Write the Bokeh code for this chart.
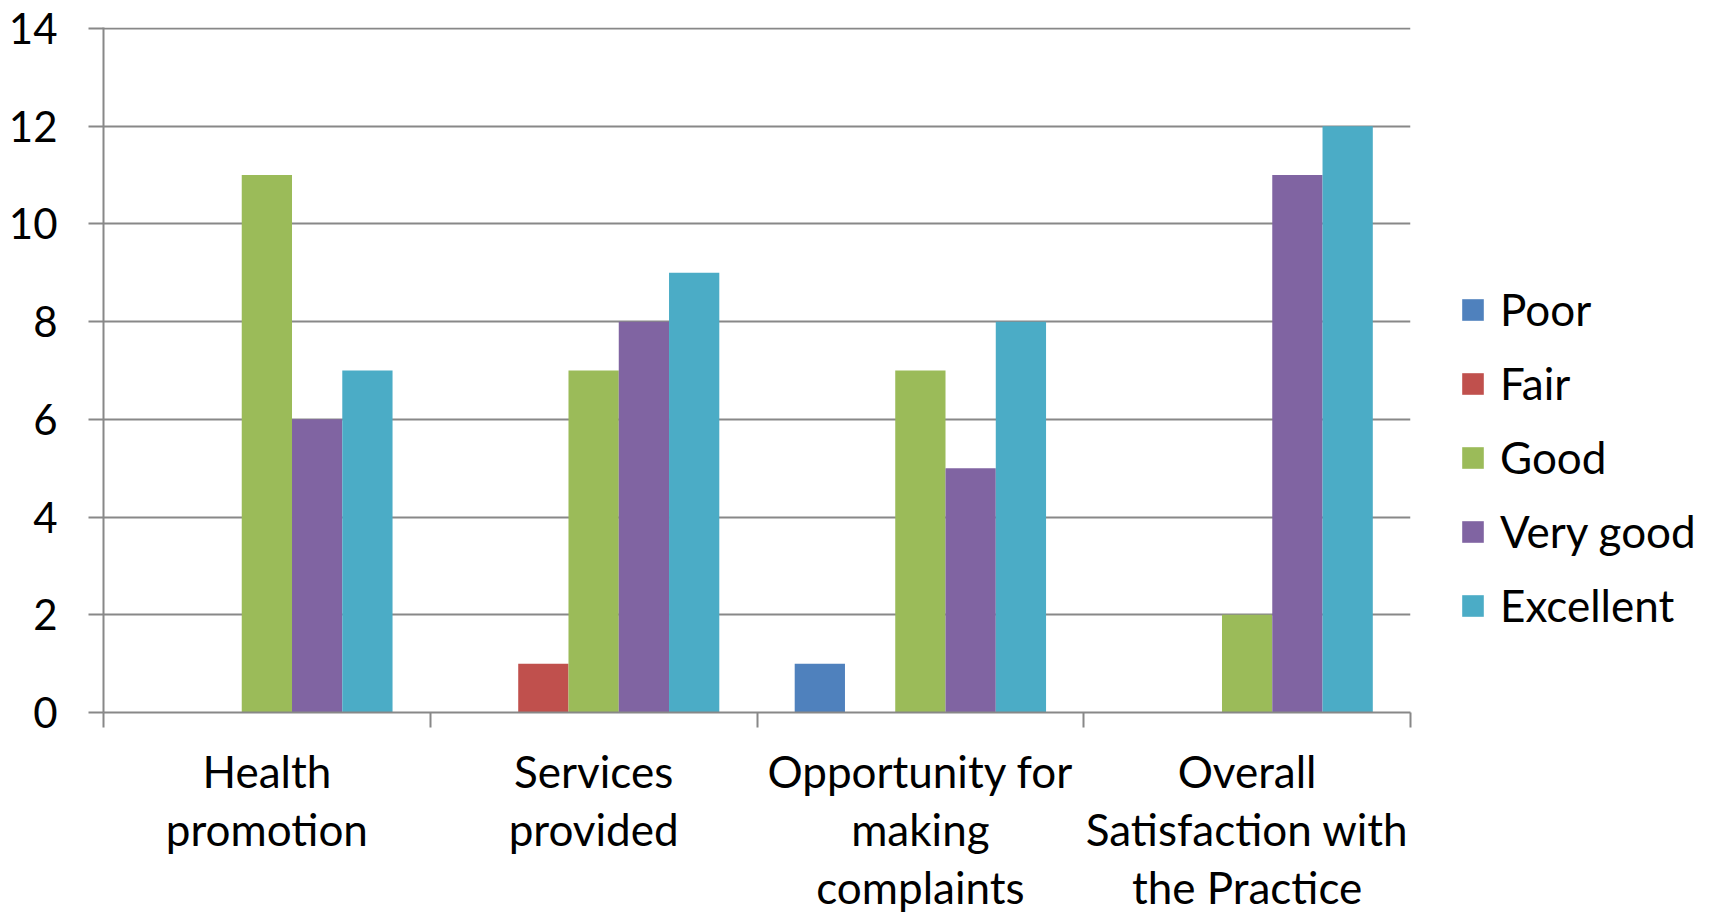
from bokeh.plotting import figure
from bokeh.models import (Range1d, FixedTicker, Legend, LegendItem, ColumnDataSource)
from bokeh.embed import file_html
from bokeh.resources import INLINE

categories = ["Health\npromotion", "Services\nprovided",
              "Opportunity for\nmaking\ncomplaints",
              "Overall\nSatisfaction with\nthe Practice"]
series_names = ["Poor", "Fair", "Good", "Very good", "Excellent"]
poor = [0, 0, 1, 0]
fair = [0, 1, 0, 0]
good = [11, 7, 7, 2]
very_good = [6, 8, 5, 11]
excellent = [7, 9, 8, 12]
colors = ["#4F81BD", "#C0504D", "#9BBB59", "#8064A2", "#4BACC6"]
y_ticks = [0, 2, 4, 6, 8, 10, 12, 14]

FONT = "Lato"
GRID = "#888888"

p = figure(frame_width=1307, frame_height=685, x_range=Range1d(0, len(categories)),
           y_range=Range1d(0, 14.02), output_backend="svg", toolbar_location=None,
           min_border_left=103, min_border_right=299, min_border_top=27,
           min_border_bottom=204)
p.outline_line_color = None
p.background_fill_color = "white"
p.border_fill_color = "white"

n = len(series_names)
bar_w = 1.0 / (n + 1.5)
renderers = []
for k, (name, vals) in enumerate(zip(series_names, [poor, fair, good, very_good, excellent])):
    xs = [i + 0.5 + (k - (n - 1) / 2) * bar_w for i in range(len(categories))]
    src = ColumnDataSource(dict(x=xs, top=vals))
    r = p.vbar(x="x", top="top", bottom=0, width=bar_w, source=src,
               fill_color=colors[k], line_color=None)
    renderers.append((name, r))

# grid
p.xgrid.visible = False
p.ygrid.grid_line_color = GRID
p.ygrid.grid_line_width = 2
p.ygrid.ticker = FixedTicker(ticks=y_ticks)

# y axis
ya = p.yaxis[0]
ya.ticker = FixedTicker(ticks=y_ticks)
ya.axis_line_color = GRID
ya.axis_line_width = 2
ya.major_tick_line_color = GRID
ya.major_tick_line_width = 2
ya.major_tick_out = 15
ya.major_tick_in = 0
ya.minor_tick_line_color = None
ya.major_label_standoff = 31
ya.major_label_text_font = FONT
ya.major_label_text_font_size = "42px"
ya.major_label_text_color = "black"

# x axis
xa = p.xaxis[0]
centers = [i + 0.5 for i in range(len(categories))]
bounds = [float(i) for i in range(len(categories) + 1)]
xa.ticker = FixedTicker(ticks=centers, minor_ticks=bounds)
xa.major_label_overrides = {c: lab for c, lab in zip(centers, categories)}
xa.axis_line_color = GRID
xa.axis_line_width = 2
xa.major_tick_line_color = None
xa.major_tick_out = 0
xa.major_tick_in = 0
xa.minor_tick_line_color = GRID
xa.minor_tick_line_width = 2
xa.minor_tick_out = 15
xa.minor_tick_in = 0
xa.major_label_standoff = 17
xa.major_label_text_font = FONT
xa.major_label_text_font_size = "44px"
xa.major_label_text_line_height = 1.117
xa.major_label_text_color = "black"

legend = Legend(items=[LegendItem(label=nm, renderers=[r]) for nm, r in renderers],
                location=(49, 81), orientation="vertical")
legend.border_line_color = None
legend.background_fill_alpha = 0
legend.padding = 0
legend.margin = 0
legend.glyph_width = 27
legend.glyph_height = 27
legend.label_standoff = 14
legend.label_text_font = FONT
legend.label_text_font_size = "44px"
legend.label_text_color = "black"
legend.spacing = 22
p.add_layout(legend, "right")

open("out.html", "w").write(file_html(p, INLINE))
